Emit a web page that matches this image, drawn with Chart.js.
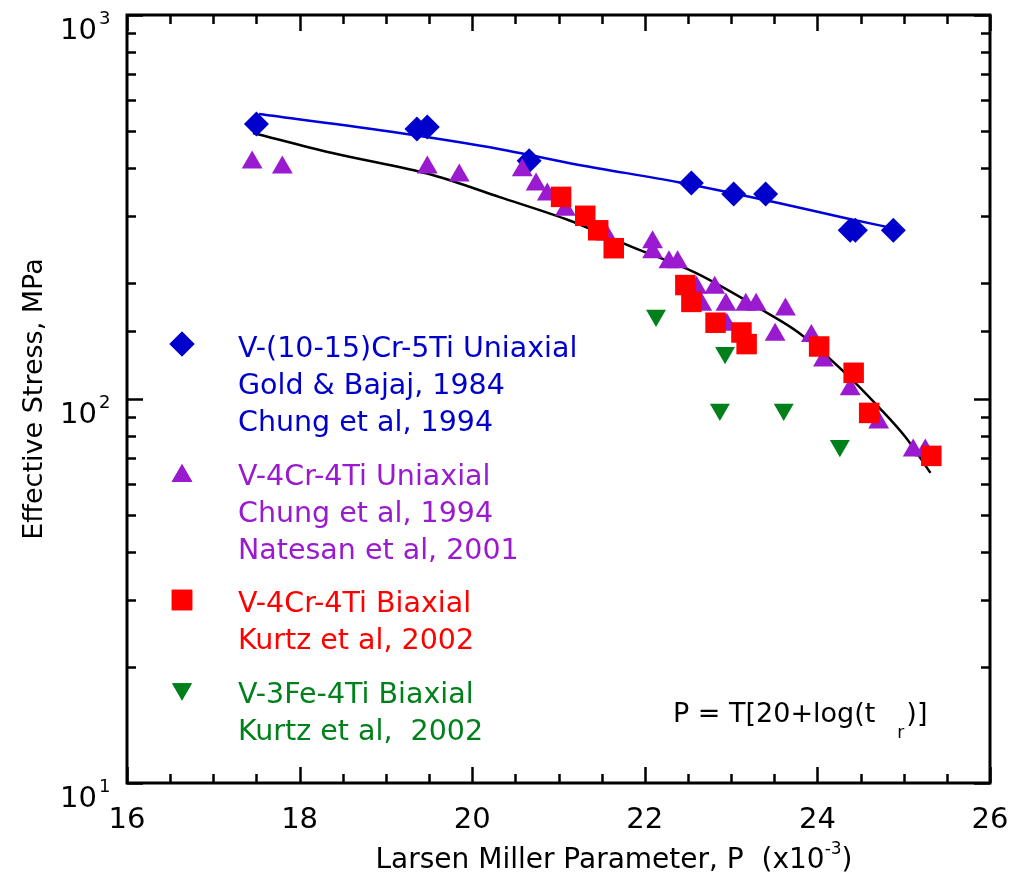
<!DOCTYPE html>
<html>
<head>
<meta charset="utf-8">
<title>Larsen Miller plot</title>
<script src="https://cdn.jsdelivr.net/npm/chart.js@4.4.1/dist/chart.umd.min.js"></script>
<style>
  html, body { margin: 0; padding: 0; background: #fff; }
  #wrap { position: relative; width: 1013px; height: 877px; }
</style>
</head>
<body>
<div id="wrap"><canvas id="lmpChart"></canvas></div>
<script>
// Larsen Miller parameter P (x10^-3) vs effective stress (MPa)

// V-(10-15)Cr-5Ti uniaxial
const crTiUniP = [17.50, 19.36, 19.48, 20.66, 22.54, 23.03, 23.40, 24.38, 24.44, 24.88];
const crTiUniS = [520, 505, 511, 417, 365, 342, 342, 275, 275, 275];

// V-4Cr-4Ti uniaxial
const v44UniP = [17.45, 17.80, 19.48, 19.85, 20.58, 20.74, 20.87, 21.08, 21.55, 22.09, 22.09,
  22.28, 22.38, 22.60, 22.81, 22.66, 22.94, 23.17, 23.29, 23.63, 22.95, 23.51, 23.93,
  24.07, 24.38, 24.71, 25.11, 25.25];
const v44UniS = [413, 401, 401, 382, 394, 362, 341, 311, 268, 256, 241,
  227, 227, 195, 195, 176, 176, 176, 176, 171, 156, 147, 146,
  126, 106, 86.9, 73.4, 73.4];

// V-4Cr-4Ti biaxial
const v44BiP = [21.03, 21.31, 21.46, 21.64, 22.47, 22.54, 22.82, 23.12, 23.18, 24.02, 24.42, 24.60, 25.32];
const v44BiS = [336, 300, 275, 247, 198, 179, 158, 149, 139, 137, 117, 92, 71.1];

// V-3Fe-4Ti biaxial
const feTiBiP = [22.13, 22.93, 22.87, 23.61, 24.26];
const feTiBiS = [165, 132, 93.9, 93.9, 75.6];

// fitted curves
const crTiFitP = [17.53, 19.16, 20.31, 21.24, 22.39, 23.55, 24.32, 24.86];
const crTiFitS = [552, 493, 448, 407, 367, 324, 296, 279];
const v44FitP = [17.46, 18.38, 19.54, 20.31, 21.12, 21.85, 22.59, 23.35, 23.78, 24.32, 24.71, 25.02, 25.31];
const v44FitS = [493, 437, 383, 336, 292, 249, 213, 171, 149, 117, 95.3, 79.6, 64.2];

const xTickLabels = [16, 18, 20, 22, 24, 26];
const yTickLabels = [10, 100, 1000];

const legendText = [
  ['V-(10-15)Cr-5Ti Uniaxial', 'Gold & Bajaj, 1984', 'Chung et al, 1994'],
  ['V-4Cr-4Ti Uniaxial', 'Chung et al, 1994', 'Natesan et al, 2001'],
  ['V-4Cr-4Ti Biaxial', 'Kurtz et al, 2002'],
  ['V-3Fe-4Ti Biaxial', 'Kurtz et al,  2002']
];

const BLUE = '#0000cc';
const PURPLE = '#9a1ad0';
const RED = '#ff0000';
const GREEN = '#00801a';
const FONT = '"DejaVu Sans", Verdana, sans-serif';

function pairs(xs, ys) {
  return xs.map((x, i) => ({ x: x, y: ys[i] }));
}

// frame, inward ticks, tick labels, titles, key and formula
const decorations = {
  id: 'decorations',
  afterDatasetsDraw(chart) {
    const { ctx, chartArea: a, scales: { x, y } } = chart;
    ctx.save();
    ctx.strokeStyle = '#000';
    ctx.lineWidth = 2.5;
    ctx.beginPath();
    x.ticks.forEach(t => {
      const px = Math.round(x.getPixelForValue(t.value)) + 0.5;
      const len = xTickLabels.includes(t.value) ? 16 : 9;
      ctx.moveTo(px, a.bottom); ctx.lineTo(px, a.bottom - len);
      ctx.moveTo(px, a.top); ctx.lineTo(px, a.top + len);
    });
    y.ticks.forEach(t => {
      const py = Math.round(y.getPixelForValue(t.value)) + 0.5;
      const lg = Math.log10(t.value);
      const len = Math.abs(lg - Math.round(lg)) < 1e-6 ? 16 : 9;
      ctx.moveTo(a.left, py); ctx.lineTo(a.left + len, py);
      ctx.moveTo(a.right, py); ctx.lineTo(a.right - len, py);
    });
    ctx.stroke();
    ctx.lineWidth = 3;
    ctx.strokeRect(a.left, a.top, a.right - a.left, a.bottom - a.top);

    // tick labels
    ctx.fillStyle = '#000';
    ctx.textBaseline = 'alphabetic';
    ctx.font = '29px ' + FONT;
    ctx.textAlign = 'center';
    xTickLabels.forEach(v => {
      ctx.fillText(String(v), x.getPixelForValue(v), a.bottom + 45);
    });
    yTickLabels.forEach(v => {
      const py = y.getPixelForValue(v);
      ctx.font = '29px ' + FONT;
      ctx.textAlign = 'right';
      ctx.fillText('10', a.left - 30, py + 24);
      ctx.font = '18px ' + FONT;
      ctx.textAlign = 'left';
      ctx.fillText(String(Math.round(Math.log10(v))), a.left - 28, py + 9);
    });

    // axis titles
    ctx.font = '28px ' + FONT;
    const xt1 = 'Larsen Miller Parameter, P  (x10';
    const xt2 = '-3';
    const xt3 = ')';
    const w1 = ctx.measureText(xt1).width;
    const w3 = ctx.measureText(xt3).width;
    ctx.font = '17px ' + FONT;
    const w2 = ctx.measureText(xt2).width;
    let tx = 614 - (w1 + w2 + w3) / 2;
    ctx.textAlign = 'left';
    ctx.font = '28px ' + FONT;
    ctx.fillText(xt1, tx, 868);
    ctx.font = '17px ' + FONT;
    ctx.fillText(xt2, tx + w1, 854);
    ctx.font = '28px ' + FONT;
    ctx.fillText(xt3, tx + w1 + w2, 868);

    ctx.save();
    ctx.translate(42, (a.top + a.bottom) / 2);
    ctx.rotate(-Math.PI / 2);
    ctx.textAlign = 'center';
    ctx.font = '27px ' + FONT;
    ctx.fillText('Effective Stress, MPa', 0, 0);
    ctx.restore();

    // formula
    ctx.textAlign = 'left';
    ctx.font = '27px ' + FONT;
    const f1 = 'P = T[20+log(t';
    ctx.fillText(f1, 673, 722);
    const fx = 673 + ctx.measureText(f1).width + 22;
    ctx.font = '17px ' + FONT;
    ctx.fillText('r', fx, 738);
    ctx.font = '27px ' + FONT;
    ctx.fillText(')]', fx + 9, 722);

    // key
    const keyColors = [BLUE, PURPLE, RED, GREEN];
    const keyMarks = [
      { pointStyle: 'rectRot', radius: 12.5, rotation: 0, my: 344 },
      { pointStyle: 'triangle', radius: 12, rotation: 0, my: 476 },
      { pointStyle: 'rect', radius: 14.5, rotation: 0, my: 600 },
      { pointStyle: 'triangle', radius: 11.5, rotation: 180, my: 689 }
    ];
    const firstBase = [357, 485, 612, 703];
    ctx.font = '28.5px ' + FONT;
    legendText.forEach((lines, i) => {
      ctx.fillStyle = keyColors[i];
      const m = keyMarks[i];
      Chart.helpers.drawPoint(ctx, { pointStyle: m.pointStyle, radius: m.radius, rotation: m.rotation, borderWidth: 0 }, 182, m.my);
      ctx.fill();
      lines.forEach((s, j) => {
        ctx.fillText(s, 238, firstBase[i] + j * 37);
      });
    });
    ctx.restore();
  }
};

const scatterStyle = { showLine: false, pointBorderWidth: 0, pointHoverRadius: 0 };

new Chart(document.getElementById('lmpChart'), {
  type: 'scatter',
  data: {
    datasets: [
      Object.assign({ label: 'V-3Fe-4Ti Biaxial', data: pairs(feTiBiP, feTiBiS),
        pointStyle: 'triangle', pointRotation: 180, pointRadius: 11.5, backgroundColor: GREEN }, scatterStyle),
      Object.assign({ label: 'V-4Cr-4Ti Biaxial', data: pairs(v44BiP, v44BiS),
        pointStyle: 'rect', pointRadius: 14.5, backgroundColor: RED }, scatterStyle),
      Object.assign({ label: 'V-4Cr-4Ti Uniaxial', data: pairs(v44UniP, v44UniS),
        pointStyle: 'triangle', pointRadius: 12, backgroundColor: PURPLE }, scatterStyle),
      Object.assign({ label: 'V-(10-15)Cr-5Ti Uniaxial', data: pairs(crTiUniP, crTiUniS),
        pointStyle: 'rectRot', pointRadius: 12.5, backgroundColor: BLUE }, scatterStyle),
      { label: 'V-4Cr-4Ti fit', data: pairs(v44FitP, v44FitS), showLine: true, pointRadius: 0,
        borderColor: '#000', borderWidth: 2.5, cubicInterpolationMode: 'monotone' },
      { label: 'V-(10-15)Cr-5Ti fit', data: pairs(crTiFitP, crTiFitS), showLine: true, pointRadius: 0,
        borderColor: '#0000dd', borderWidth: 2.5, cubicInterpolationMode: 'monotone' }
    ]
  },
  options: {
    responsive: true,
    maintainAspectRatio: false,
    animation: false,
    layout: { padding: { top: 15, right: 23, left: 0, bottom: 0 } },
    plugins: { legend: { display: false }, tooltip: { enabled: false } },
    events: [],
    scales: {
      x: {
        type: 'linear', min: 16, max: 26,
        grid: { display: false, drawTicks: false },
        border: { display: false },
        ticks: { display: false, stepSize: 0.5 },
        afterFit: (s) => { s.height = 94; }
      },
      y: {
        type: 'logarithmic', min: 10, max: 1000,
        grid: { display: false, drawTicks: false },
        border: { display: false },
        ticks: { display: false },
        afterFit: (s) => { s.width = 127; }
      }
    }
  },
  plugins: [decorations]
});
</script>
</body>
</html>
